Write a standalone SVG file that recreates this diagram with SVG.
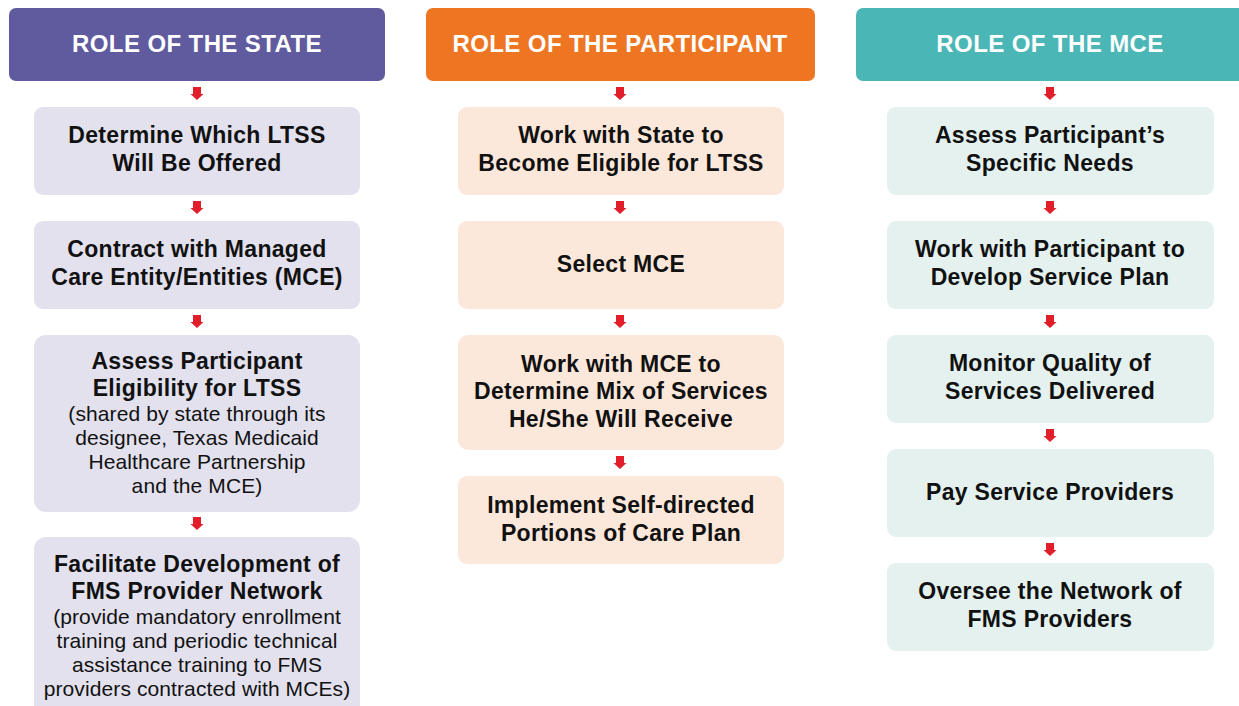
<svg xmlns="http://www.w3.org/2000/svg" width="1239" height="706" viewBox="0 0 1239 706">
<style>
.hd{font-family:"Liberation Sans",Arial,sans-serif;font-weight:bold;font-size:24px;letter-spacing:0.4px;fill:#ffffff;text-anchor:middle}
.bt{font-family:"Liberation Sans",Arial,sans-serif;font-weight:bold;font-size:23px;letter-spacing:0.3px;fill:#111111;text-anchor:middle}
.st{font-family:"Liberation Sans",Arial,sans-serif;font-size:21px;letter-spacing:0.1px;fill:#111111;text-anchor:middle}
.s1{fill:#E3E1EE}.s2{fill:#FCE8DA}.s3{fill:#E4F1EF}
.arr{fill:#E31E2B}
</style>
<defs>
<path id="a" d="M-4,0 H4 V7 H6.5 L0,13 L-6.5,7 H-4 Z"/>
</defs>
<rect width="1239" height="706" fill="#ffffff"/>

<g id="hdr-state"><rect x="9" y="8" width="376" height="73" rx="7" fill="#605A9E"/><text class="hd" x="197" y="52">ROLE OF THE STATE</text></g>
<g id="hdr-participant"><rect x="426" y="8" width="389" height="73" rx="7" fill="#EE7623"/><text class="hd" x="620" y="52">ROLE OF THE PARTICIPANT</text></g>
<g id="hdr-mce"><rect x="856" y="8" width="400" height="73" rx="7" fill="#4BB6B6"/><text class="hd" x="1050" y="52">ROLE OF THE MCE</text></g>

<g id="s-1"><rect class="s1" x="34" y="107" width="326" height="88" rx="9"/><text class="bt" x="197" y="143">Determine Which LTSS</text><text class="bt" x="197" y="171">Will Be Offered</text></g>
<g id="s-2"><rect class="s1" x="34" y="221" width="326" height="88" rx="9"/><text class="bt" x="197" y="257">Contract with Managed</text><text class="bt" x="197" y="285">Care Entity/Entities (MCE)</text></g>
<g id="s-3"><rect class="s1" x="34" y="335" width="326" height="177" rx="12"/><text class="bt" x="197" y="369">Assess Participant</text><text class="bt" x="197" y="396">Eligibility for LTSS</text><text class="st" x="197" y="421">(shared by state through its</text><text class="st" x="197" y="445">designee, Texas Medicaid</text><text class="st" x="197" y="469">Healthcare Partnership</text><text class="st" x="197" y="493">and the MCE)</text></g>
<g id="s-4"><rect class="s1" x="34" y="537" width="326" height="185" rx="12"/><text class="bt" x="197" y="572">Facilitate Development of</text><text class="bt" x="197" y="599">FMS Provider Network</text><text class="st" x="197" y="624">(provide mandatory enrollment</text><text class="st" x="197" y="648">training and periodic technical</text><text class="st" x="197" y="672">assistance training to FMS</text><text class="st" x="197" y="696">providers contracted with MCEs)</text></g>

<g id="p-1"><rect class="s2" x="458" y="107" width="326" height="88" rx="9"/><text class="bt" x="621" y="143">Work with State to</text><text class="bt" x="621" y="171">Become Eligible for LTSS</text></g>
<g id="p-2"><rect class="s2" x="458" y="221" width="326" height="88" rx="9"/><text class="bt" x="621" y="272">Select MCE</text></g>
<g id="p-3"><rect class="s2" x="458" y="335" width="326" height="115" rx="10"/><text class="bt" x="621" y="372">Work with MCE to</text><text class="bt" x="621" y="399">Determine Mix of Services</text><text class="bt" x="621" y="427">He/She Will Receive</text></g>
<g id="p-4"><rect class="s2" x="458" y="476" width="326" height="88" rx="9"/><text class="bt" x="621" y="513">Implement Self-directed</text><text class="bt" x="621" y="541">Portions of Care Plan</text></g>

<g id="m-1"><rect class="s3" x="887" y="107" width="327" height="88" rx="9"/><text class="bt" x="1050" y="143">Assess Participant’s</text><text class="bt" x="1050" y="171">Specific Needs</text></g>
<g id="m-2"><rect class="s3" x="887" y="221" width="327" height="88" rx="9"/><text class="bt" x="1050" y="257">Work with Participant to</text><text class="bt" x="1050" y="285">Develop Service Plan</text></g>
<g id="m-3"><rect class="s3" x="887" y="335" width="327" height="88" rx="9"/><text class="bt" x="1050" y="371">Monitor Quality of</text><text class="bt" x="1050" y="399">Services Delivered</text></g>
<g id="m-4"><rect class="s3" x="887" y="449" width="327" height="88" rx="9"/><text class="bt" x="1050" y="500">Pay Service Providers</text></g>
<g id="m-5"><rect class="s3" x="887" y="563" width="327" height="88" rx="9"/><text class="bt" x="1050" y="599">Oversee the Network of</text><text class="bt" x="1050" y="627">FMS Providers</text></g>

<g id="connectors" class="arr">
<use href="#a" x="197" y="87"/><use href="#a" x="197" y="201"/><use href="#a" x="197" y="315"/><use href="#a" x="197" y="517"/>
<use href="#a" x="620" y="87"/><use href="#a" x="620" y="201"/><use href="#a" x="620" y="315"/><use href="#a" x="620" y="456"/>
<use href="#a" x="1050" y="87"/><use href="#a" x="1050" y="201"/><use href="#a" x="1050" y="315"/><use href="#a" x="1050" y="429"/><use href="#a" x="1050" y="543"/>
</g>
</svg>
